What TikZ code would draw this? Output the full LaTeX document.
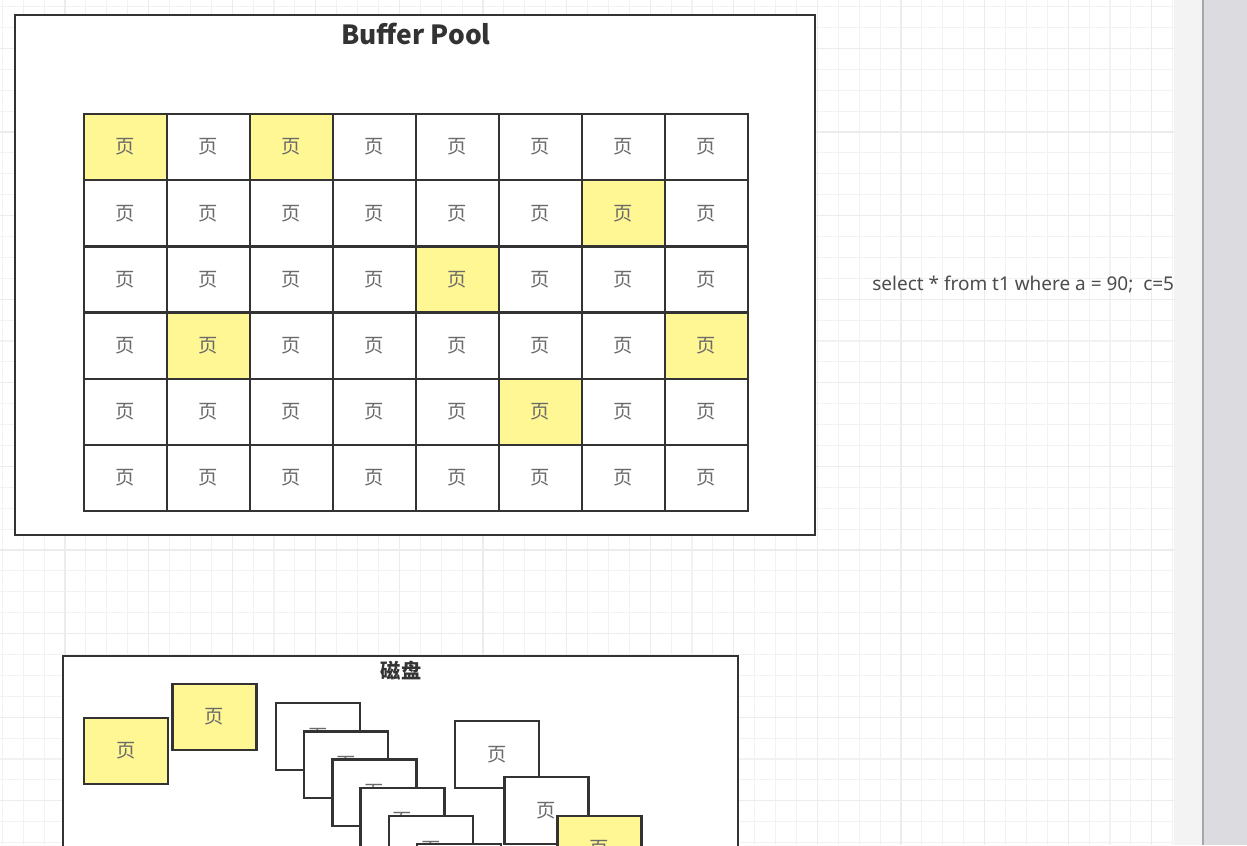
\documentclass[tikz,border=0pt]{standalone}
\usepackage{fontspec}
\setmainfont{Noto Sans}
\newfontfamily\cjk{Noto Sans CJK SC}
\definecolor{pageYellow}{HTML}{FFF694}
\definecolor{lineDark}{HTML}{333333}
\definecolor{textGray}{HTML}{6A6A6A}
\definecolor{gridMinor}{HTML}{F2F2F2}
\definecolor{gridMajor}{HTML}{ECECEC}
\definecolor{barLight}{HTML}{F3F3F3}
\definecolor{barDark}{HTML}{DCDCE0}
\begin{document}
\begin{tikzpicture}[x=0.02cm,y=-0.02cm,
    poolCell/.style={draw=lineDark,line width=1.4pt,fill=white,minimum width=1.66cm,minimum height=1.324cm,
        inner sep=0pt,font=\cjk\fontsize{11}{12}\selectfont,text=textGray},
    diskPage/.style={poolCell,minimum width=1.68cm,minimum height=1.33cm},
    frameBox/.style={draw=lineDark,line width=1.4pt,fill=white,inner sep=0pt},
]
\useasboundingbox (0,0) rectangle (1247,845);
\clip (0,0) rectangle (1247,845);
% Canvas grid
\fill[white] (0,0) rectangle (1174,845);
\foreach \k in {0,...,56} \draw[gridMinor,line width=0.6pt] ({2.3+20.9*\k},0) -- ({2.3+20.9*\k},845);
\foreach \k in {0,...,40} \draw[gridMinor,line width=0.6pt] (0,{6.6+20.9*\k}) -- (1174,{6.6+20.9*\k});
\foreach \m in {0,...,13} \draw[gridMajor,line width=0.6pt] ({65+83.6*\m},0) -- ({65+83.6*\m},845);
\foreach \m in {0,...,9} \draw[gridMajor,line width=0.6pt] (0,{48.4+83.6*\m}) -- (1174,{48.4+83.6*\m});
% Side bar
\fill[barLight] (1174,0) rectangle (1202,845);
\fill[barDark] (1202,0) rectangle (1247,845);
\draw[gray!70,line width=1pt] (1203,0) -- (1203,845);
% Buffer pool
\node[frameBox,minimum width=16cm,minimum height=10.4cm] (pool) at (415,275) {};
\node[font=\cjk\bfseries\fontsize{15}{18}\selectfont,text=lineDark] (poolTitle) at (416,34) {Buffer Pool};
\foreach \row [count=\r] in {{1,0,1,0,0,0,0,0},{0,0,0,0,0,0,1,0},{0,0,0,0,1,0,0,0},
                             {0,1,0,0,0,0,0,1},{0,0,0,0,0,1,0,0},{0,0,0,0,0,0,0,0}}
  \foreach \flag [count=\c] in \row {
    \ifnum\flag=1 \def\cellFill{pageYellow}\else\def\cellFill{white}\fi
    \node[poolCell,fill=\cellFill] (cell-\r-\c) at ({84+83*(\c-0.5)},{114+66.2*(\r-0.5)}) {页};
  }
% Query
\node[anchor=west,inner sep=0pt,text=black!70,font=\fontsize{10.8}{12}\selectfont] (query) at (872,284)
    {select * from t1 where a = 90;\ \ c=5};
% Disk
\node[frameBox,minimum width=13.5cm,minimum height=4.88cm] (disk) at (400.5,778) {};
\node[font=\cjk\bfseries\fontsize{11.5}{13}\selectfont,text=lineDark] (diskTitle) at (401,671) {磁盘};
\node[diskPage,fill=pageYellow] (pageA) at (126,751) {页};
\node[diskPage,fill=pageYellow] (pageB) at (214.5,717) {页};
\foreach \k in {0,...,5} \node[diskPage] (stack-\k) at ({318+28.2*\k},{736.5+28.2*\k}) {页};
\node[diskPage] (pageC) at (497,754.5) {页};
\node[diskPage] (pageD) at (546.5,810.5) {页};
\node[diskPage,fill=pageYellow] (pageE) at (599.5,849) {页};
\end{tikzpicture}
\end{document}
